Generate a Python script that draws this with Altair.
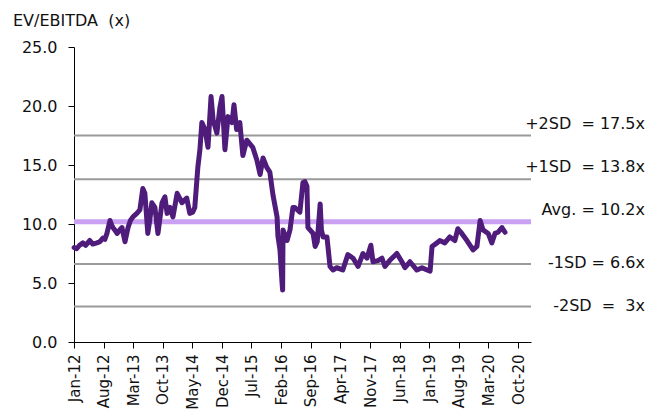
import altair as alt
import pandas as pd

dates = [
    "2012-01-02", "2012-01-20", "2012-02-10", "2012-03-05", "2012-03-25", "2012-04-24",
    "2012-05-15", "2012-06-14", "2012-07-05", "2012-07-27", "2012-08-10", "2012-08-25",
    "2012-09-16", "2012-09-28", "2012-10-07", "2012-10-20", "2012-11-06", "2012-11-25",
    "2012-12-11", "2013-01-02", "2013-01-24", "2013-02-10", "2013-02-28", "2013-03-28",
    "2013-04-19", "2013-05-10", "2013-05-25", "2013-06-15", "2013-07-01", "2013-07-14",
    "2013-08-05", "2013-08-27", "2013-09-25", "2013-10-16", "2013-11-01", "2013-11-22",
    "2013-12-13", "2014-01-12", "2014-02-16", "2014-03-22", "2014-04-13", "2014-05-04",
    "2014-05-19", "2014-06-10", "2014-06-25", "2014-07-09", "2014-08-01", "2014-08-22",
    "2014-09-13", "2014-09-28", "2014-10-25", "2014-11-16", "2014-12-01", "2014-12-22",
    "2015-01-13", "2015-02-11", "2015-02-25", "2015-03-16", "2015-04-08", "2015-04-30",
    "2015-05-28", "2015-07-10", "2015-08-09", "2015-09-01", "2015-09-22", "2015-10-19",
    "2015-11-10", "2015-12-02", "2016-01-01", "2016-01-07", "2016-01-22", "2016-02-06",
    "2016-02-10", "2016-02-13", "2016-02-28", "2016-03-13", "2016-04-03", "2016-04-24",
    "2016-05-08", "2016-06-13", "2016-07-05", "2016-07-19", "2016-08-03", "2016-08-10",
    "2016-08-25", "2016-09-16", "2016-10-01", "2016-10-16", "2016-11-06", "2016-11-15",
    "2016-11-27", "2016-12-25", "2017-01-16", "2017-02-06", "2017-03-06", "2017-03-28",
    "2017-04-18", "2017-05-24", "2017-07-01", "2017-08-06", "2017-09-10", "2017-10-09",
    "2017-11-06", "2017-11-21", "2017-12-27", "2018-01-25", "2018-02-15", "2018-03-21",
    "2018-05-12", "2018-06-17", "2018-07-09", "2018-08-14", "2018-10-03", "2018-11-09",
    "2018-12-15", "2019-01-06", "2019-01-20", "2019-02-25", "2019-03-16", "2019-04-22",
    "2019-05-28", "2019-07-03", "2019-07-25", "2019-08-22", "2019-09-28", "2019-11-11",
    "2019-12-09", "2020-01-01", "2020-01-22", "2020-02-28", "2020-03-25", "2020-04-17",
    "2020-05-09", "2020-06-06", "2020-06-28",
]

values = [
    8.0, 7.9, 8.2, 8.4, 8.2, 8.6,
    8.3, 8.4, 8.5, 8.8, 8.7, 9.2,
    10.3, 9.9, 9.7, 9.5, 9.2, 9.5,
    9.7, 8.5, 9.7, 10.3, 10.6, 10.9,
    11.2, 13.0, 12.6, 9.2, 10.5, 11.8,
    11.4, 9.2, 11.8, 12.3, 10.9, 11.4,
    10.6, 12.6, 11.8, 12.2, 10.9, 11.0,
    11.4, 14.8, 16.3, 18.6, 18.0, 16.5,
    20.8, 18.8, 17.7, 19.9, 20.8, 16.3,
    19.1, 18.6, 20.1, 18.0, 18.6, 15.8,
    17.1, 16.5, 15.4, 14.2, 15.6, 14.8,
    14.4, 12.5, 10.6, 9.0, 7.8, 5.0,
    4.4, 9.5, 9.0, 8.6, 9.5, 11.4,
    11.4, 11.0, 13.5, 13.6, 13.2, 9.7,
    9.5, 9.2, 8.1, 8.5, 11.7, 9.5,
    8.9, 8.9, 6.4, 6.1, 6.3, 6.2,
    6.1, 7.4, 7.1, 6.4, 7.5, 7.1,
    8.2, 6.8, 6.9, 7.1, 6.4, 6.9,
    7.5, 6.8, 6.3, 6.8, 6.1, 6.3,
    6.1, 6.0, 8.1, 8.4, 8.6, 8.4,
    8.9, 8.6, 9.6, 9.2, 8.6, 7.8,
    8.1, 10.3, 9.5, 9.2, 8.4, 9.2,
    9.3, 9.7, 9.3,
]

NB = "\u00a0"
sd_levels = [17.5, 13.8, 6.6, 3.0]
avg_level = [10.2]
upper_levels = [17.5, 13.8, 10.2]
upper_labels = ["+2SD" + NB + NB + "=" + NB + "17.5x",
                "+1SD" + NB + NB + "=" + NB + "13.8x",
                "Avg." + NB + "=" + NB + "10.2x"]
lower_levels = [6.6, 3.0]
lower_labels = ["-1SD" + NB + "=" + NB + "6.6x",
                "-2SD" + NB + NB + "=" + NB + NB + "3x"]

tick_months = [(2012, 1), (2012, 8), (2013, 3), (2013, 10), (2014, 5), (2014, 12),
               (2015, 7), (2016, 2), (2016, 9), (2017, 4), (2017, 11), (2018, 6),
               (2019, 1), (2019, 8), (2020, 3), (2020, 10)]
y_ticks = [0, 5, 10, 15, 20, 25]

FONT = "DejaVu Sans"
series_df = pd.DataFrame({"date": dates, "value": values})
sd_df = pd.DataFrame({"level": sd_levels})
avg_df = pd.DataFrame({"level": avg_level})
up_df = pd.DataFrame({"level": upper_levels, "label": upper_labels})
lo_df = pd.DataFrame({"level": lower_levels, "label": lower_labels})

yscale = alt.Scale(domain=[0, 25], nice=False, zero=True)
xscale = alt.Scale(
    type="utc",
    domain=[alt.DateTime(year=2012, month=1, date=1, utc=True),
            alt.DateTime(year=2021, month=1, date=1, utc=True)],
)

line = alt.Chart(series_df).mark_line(
    color="#4F1C7C", strokeWidth=5, strokeJoin="round", strokeCap="round"
).encode(
    x=alt.X("date:T", scale=xscale, axis=alt.Axis(
        values=[alt.DateTime(year=y, month=m, date=1, utc=True) for y, m in tick_months],
        format="%b-%y", labelAngle=270, title=None, grid=False,
        tickSize=6, labelPadding=6, labelFontSize=15,
    )),
    y=alt.Y("value:Q", scale=yscale, axis=alt.Axis(
        values=y_ticks, format=".1f", title=None, grid=False,
        tickSize=6, labelPadding=11,
    )),
)

sd_rules = alt.Chart(sd_df).mark_rule(color="#9A9A9A", strokeWidth=2).encode(
    y=alt.Y("level:Q", scale=yscale)
)
avg_rule = alt.Chart(avg_df).mark_rule(color="#C9A0F2", strokeWidth=5).encode(
    y=alt.Y("level:Q", scale=yscale)
)

up_text = alt.Chart(up_df).mark_text(
    align="right", baseline="middle", dy=-12, font=FONT, fontSize=16, color="#111111"
).encode(
    x=alt.value(571),
    y=alt.Y("level:Q", scale=yscale),
    text="label:N",
)
lo_text = alt.Chart(lo_df).mark_text(
    align="right", baseline="middle", dy=-1, font=FONT, fontSize=16, color="#111111"
).encode(
    x=alt.value(571),
    y=alt.Y("level:Q", scale=yscale),
    text="label:N",
)

chart = alt.layer(sd_rules, avg_rule, line, up_text, lo_text).properties(
    width=457,
    height=295,
    autosize=alt.AutoSizeParams(type="none"),
    padding={"left": 66, "top": 39, "right": 123, "bottom": 69},
    title=alt.TitleParams(
        "EV/EBITDA" + NB + NB + "(x)", anchor="start", frame="group", dx=-61, offset=10,
        font=FONT, fontSize=16, fontWeight="normal", color="#111111",
    ),
).configure_view(stroke=None).configure_axis(
    domainColor="#000000", tickColor="#000000", domainWidth=1, tickWidth=1,
    labelFont=FONT, labelFontSize=16, labelColor="#111111",
)

chart.save("out.html", embed_options={"renderer": "svg", "actions": False})
